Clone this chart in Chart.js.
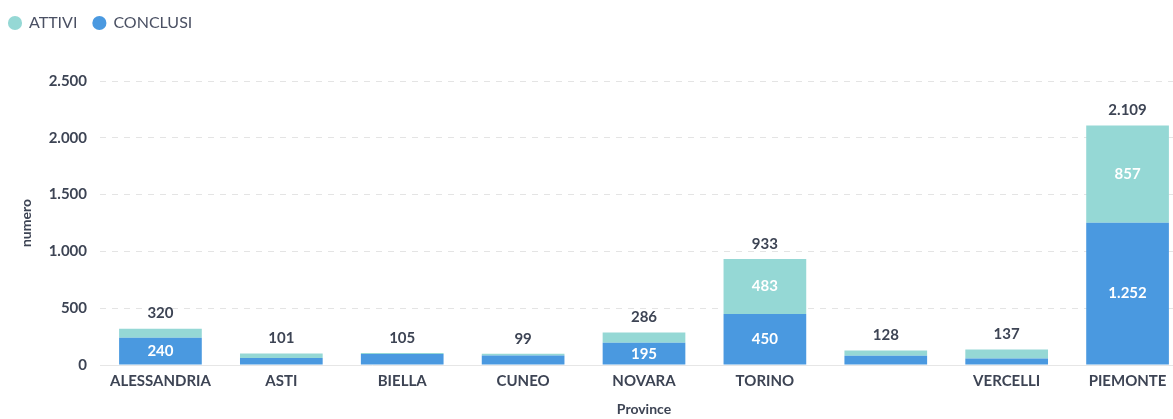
<!DOCTYPE html>
<html>
<head>
<meta charset="utf-8">
<script src="https://cdn.jsdelivr.net/npm/chart.js@4/dist/chart.umd.min.js"></script>
<style>
  html, body { margin: 0; padding: 0; background: #ffffff; overflow: hidden; }
  #wrap { width: 1188px; height: 419px; position: relative; }
</style>
</head>
<body>
<div id="wrap"><canvas id="c"></canvas></div>
<script>
const categories = ['ALESSANDRIA', 'ASTI', 'BIELLA', 'CUNEO', 'NOVARA', 'TORINO', 'VERBANO-CUSIO-OSSOLA', 'VERCELLI', 'PIEMONTE'];
const tickLabels = ['ALESSANDRIA', 'ASTI', 'BIELLA', 'CUNEO', 'NOVARA', 'TORINO', '', 'VERCELLI', 'PIEMONTE'];
const conclusi = [240, 62, 97, 84, 195, 450, 82, 58, 1252];
const attivi = [80, 39, 8, 15, 91, 483, 46, 79, 857];
const yTicks = [0, 500, 1000, 1500, 2000, 2500];

const TEXT = '#3d4454';
const FONT = 'Lato, "Open Sans", sans-serif';

function fmt(n) {
  return String(Math.round(n)).replace(/\B(?=(\d{3})+(?!\d))/g, '.');
}

const legendSpace = {
  id: 'legendSpace',
  beforeInit(chart) {
    const orig = chart.legend.fit;
    chart.legend.fit = function () {
      orig.call(this);
      this.height += 40;
    };
  }
};

const valueLabels = {
  id: 'valueLabels',
  afterDatasetsDraw(chart) {
    const ctx = chart.ctx;
    ctx.save();
    ctx.textAlign = 'center';
    ctx.textBaseline = 'middle';
    chart.data.datasets.forEach((ds, di) => {
      const meta = chart.getDatasetMeta(di);
      meta.data.forEach((bar, i) => {
        const h = Math.abs(bar.base - bar.y);
        if (h > 20) {
          ctx.fillStyle = '#ffffff';
          ctx.font = 'bold 15px ' + FONT;
          ctx.fillText(fmt(ds.data[i]), bar.x, (bar.y + bar.base) / 2);
        }
      });
    });
    const topMeta = chart.getDatasetMeta(chart.data.datasets.length - 1);
    topMeta.data.forEach((bar, i) => {
      const total = conclusi[i] + attivi[i];
      ctx.fillStyle = TEXT;
      ctx.font = 'bold 15px ' + FONT;
      ctx.fillText(fmt(total), bar.x, bar.y - 15);
    });
    ctx.restore();
  }
};

new Chart(document.getElementById('c'), {
  type: 'bar',
  data: {
    labels: categories,
    datasets: [
      { label: 'CONCLUSI', data: conclusi, backgroundColor: '#4a99e0', borderWidth: 0 },
      { label: 'ATTIVI', data: attivi, backgroundColor: '#95d8d5', borderWidth: 0 }
    ]
  },
  options: {
    responsive: true,
    maintainAspectRatio: false,
    animation: false,
    layout: { padding: { top: -1, left: -7, right: 0, bottom: 0 } },
    datasets: { bar: { categoryPercentage: 1.0, barPercentage: 0.684 } },
    plugins: {
      legend: {
        position: 'top',
        align: 'start',
        reverse: true,
        labels: {
          usePointStyle: true,
          pointStyle: 'circle',
          boxWidth: 12,
          boxHeight: 10,
          padding: 16,
          color: '#4a5063',
          font: { family: FONT, size: 16 }
        }
      },
      tooltip: { enabled: false }
    },
    scales: {
      x: {
        stacked: true,
        grid: { display: false, drawTicks: false },
        border: { display: true, color: '#e6e6e6', width: 1 },
        ticks: {
          padding: 7,
          color: TEXT,
          font: { family: FONT, size: 15, weight: 'bold' },
          maxRotation: 0,
          autoSkip: false,
          callback: (v, i) => tickLabels[i]
        },
        title: {
          display: true,
          text: 'Province',
          color: TEXT,
          font: { family: FONT, size: 14, weight: 'bold' },
          padding: { top: 0, bottom: 1 }
        },
        afterFit(scale) { scale.height = 54; }
      },
      y: {
        stacked: true,
        min: 0,
        max: 2500,
        afterBuildTicks(scale) { scale.ticks = yTicks.map(v => ({ value: v })); },
        grid: { color: '#e4e4e4', drawTicks: false, lineWidth: 1 },
        border: { display: false, dash: [6, 6] },
        ticks: {
          padding: 13,
          color: TEXT,
          font: { family: FONT, size: 15, weight: 'bold' },
          callback: v => fmt(v)
        },
        title: {
          display: true,
          text: 'numero',
          color: TEXT,
          font: { family: FONT, size: 14, weight: 'bold' },
          padding: { top: 25, bottom: 0 }
        },
        afterFit(scale) { scale.width = 107; }
      }
    }
  },
  plugins: [legendSpace, valueLabels]
});
</script>
</body>
</html>
